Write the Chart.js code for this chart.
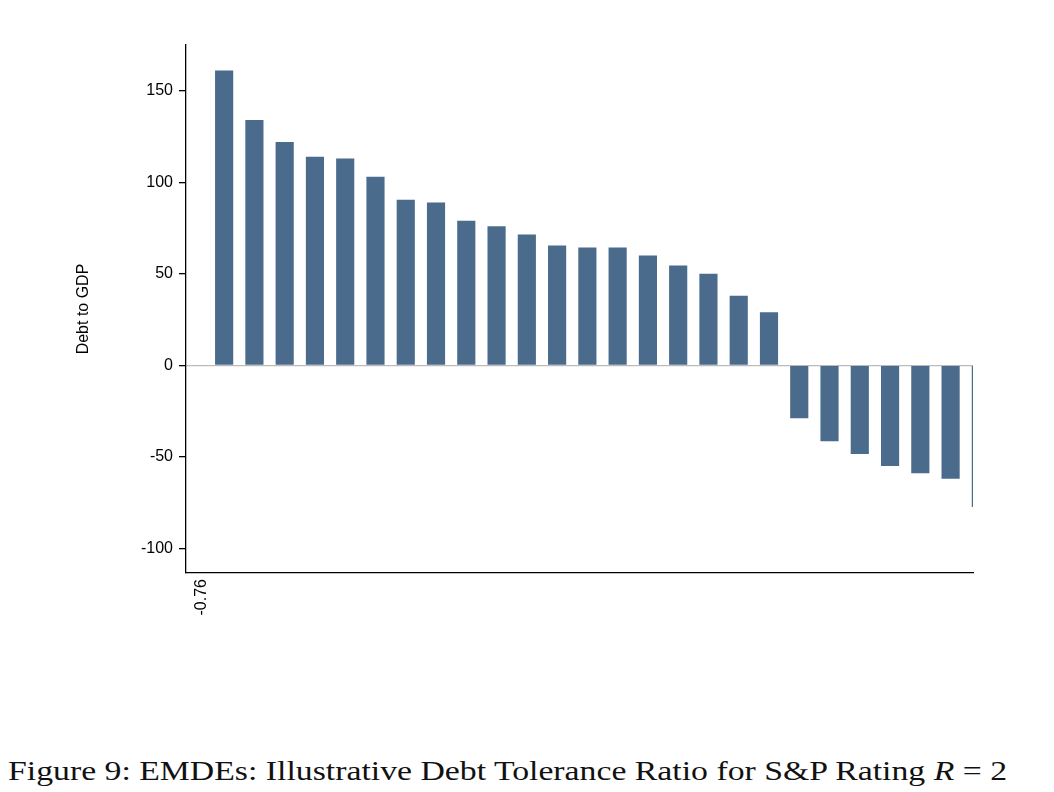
<!DOCTYPE html>
<html><head><meta charset="utf-8">
<script src="https://cdn.jsdelivr.net/npm/chart.js@4"></script>
<style>
body{margin:0;background:#fff;width:1054px;height:792px;overflow:hidden;}
#wrap{position:absolute;left:0;top:0;width:1054px;height:730px;}
#cap{position:absolute;left:8px;top:756px;font-family:"Liberation Serif","DejaVu Serif",serif;font-size:27px;color:#111;white-space:nowrap;transform-origin:0 0;transform:scaleX(1.25);}
</style></head><body>
<div id="wrap"><canvas id="c"></canvas></div>
<div id="cap">Figure 9: EMDEs: Illustrative Debt Tolerance Ratio for S&amp;P Rating <i>R</i> = 2</div>
<script>
const countries=["Qatar","China","Malaysia","Chile","Poland","Hungary","Thailand","India","Mexico","Egypt","Philippines","South Africa","Brazil","Oman","Morocco","Peru","Colombia","Indonesia","Russia","Pakistan","Argentina","Venezuela","Ukraine","Bangladesh","Turkey","Nigeria"];
const debtToGDP=[161,134,122,114,113,103,90.5,89,79,76,71.5,65.5,64.4,64.4,60,54.5,50,38,29,-29,-41.5,-48.5,-55,-59,-62,-77.5];
const yTicks=[-100,-50,0,50,100,150];
new Chart(document.getElementById('c'),{
type:'bar',
data:{labels:countries,datasets:[{data:debtToGDP,backgroundColor:'#4a6b8c',barPercentage:0.6,categoryPercentage:1}]},
options:{responsive:true,maintainAspectRatio:false,animation:false,
layout:{padding:{left:70,top:45,right:81,bottom:0}},
plugins:{legend:{display:false},tooltip:{enabled:false}},
scales:{
y:{min:-113.5,max:175,
afterBuildTicks:s=>{s.ticks=yTicks.map(v=>({value:v}));},
afterFit:s=>{s.width=116;},
title:{display:true,text:'Debt to GDP',color:'#000',font:{family:'Liberation Sans',size:16}},
ticks:{color:'#000',font:{family:'Liberation Sans',size:16},padding:6},
grid:{color:c=>c.tick&&c.tick.value===0?'#bbbbbb':'rgba(0,0,0,0)',tickColor:'#000',tickLength:7,lineWidth:1.3},
border:{color:'#000',width:1.3}},
x:{afterDataLimits:s=>{s.min=-0.76;s.max=countries.length-1+0.76;},
afterFit:s=>{s.height=157;},
ticks:{color:'#000',font:{family:'Liberation Sans',size:16},minRotation:90,maxRotation:90,padding:6},
grid:{display:false,tickLength:0},
border:{color:'#000',width:1.3}}
}}});
</script></body></html>
